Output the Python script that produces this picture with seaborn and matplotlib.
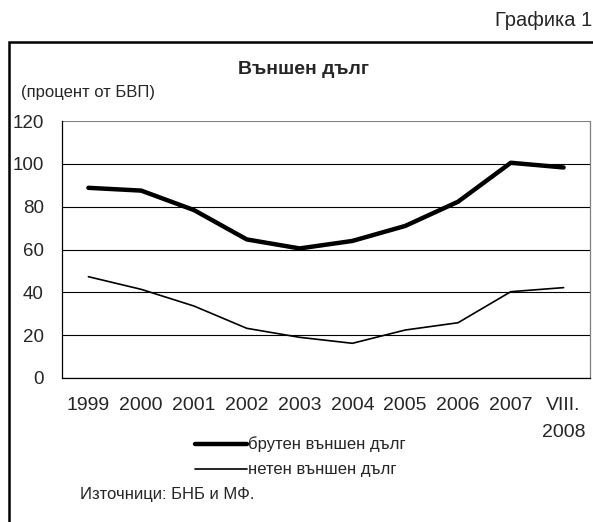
import pandas as pd
import numpy as np
import seaborn as sns
import matplotlib.pyplot as plt
from matplotlib.patches import Rectangle
from matplotlib.lines import Line2D

# данни (процент от БВП)
periods = ["1999", "2000", "2001", "2002", "2003", "2004", "2005", "2006", "2007", "VIII.\n2008"]
gross_debt = [88.8, 87.5, 78.4, 64.7, 60.5, 64.0, 71.0, 82.3, 100.5, 98.3]
net_debt = [47.3, 41.4, 33.6, 23.2, 19.0, 16.2, 22.4, 25.8, 40.3, 42.2]
series_names = ["брутен външен дълг", "нетен външен дълг"]

df = pd.DataFrame({"period": periods * 2,
                   "value": gross_debt + net_debt,
                   "series": [series_names[0]] * len(periods) + [series_names[1]] * len(periods)})
df["pos"] = list(range(len(periods))) * 2

sns.set_style("white")
plt.rcParams['font.family'] = ['Liberation Sans', 'DejaVu Sans']

W, H = 593, 522
fig = plt.figure(figsize=(W / 100, H / 100), dpi=100)
ax = fig.add_axes([62 / W, 1 - 378 / H, (590 - 62) / W, (378 - 121) / H])

sns.lineplot(data=df, x="pos", y="value", hue="series", size="series",
             sizes={series_names[0]: 3.2, series_names[1]: 1.2},
             palette={series_names[0]: "black", series_names[1]: "black"},
             ax=ax, legend=False)

ax.set_xlim(-0.5, len(periods) - 0.5)
ax.set_ylim(0, 120)
ax.set_yticks(range(0, 121, 20))
ax.set_xticks(range(len(periods)))
ax.set_xticklabels(periods, fontsize=14, linespacing=1.75)
ax.set_xticks(np.arange(-0.5, len(periods), 1), minor=True)
ax.tick_params(axis="x", which="major", length=0, pad=14)
ax.tick_params(axis="x", which="minor", length=5, width=0.8, color="black", direction="out")
ax.tick_params(axis="y", length=5, width=0.8, color="black", direction="out", labelsize=13.5, pad=8)
ax.yaxis.grid(True, color="black", linewidth=0.8)
ax.get_ygridlines()[-1].set_color("#808080")
ax.set_axisbelow(True)
ax.set_xlabel("")
ax.set_ylabel("")
for side in ["left", "bottom"]:
    ax.spines[side].set_color("black")
    ax.spines[side].set_linewidth(0.9)
ax.spines["right"].set_color("#808080")
ax.spines["right"].set_linewidth(0.9)
ax.spines["top"].set_visible(False)

# рамка
fig.patches.append(Rectangle((9 / W, -0.1), 1.0, 1 - 42 / H + 0.1, transform=fig.transFigure,
                             fill=False, edgecolor="black", linewidth=1.8))

fig.text(592 / W, 1 - 21 / H, "Графика 1", ha="right", va="center", fontsize=14.5)
fig.text(303 / W, 1 - 70 / H, "Външен дълг", ha="center", va="center", fontsize=14, fontweight="bold")
fig.text(21 / W, 1 - 93 / H, "(процент от БВП)", ha="left", va="center", fontsize=12)
fig.text(80 / W, 1 - 495 / H, "Източници: БНБ и МФ.", ha="left", va="center", fontsize=12)

handles = [Line2D([], [], color="black", linewidth=3.2), Line2D([], [], color="black", linewidth=1.2)]
fig.legend(handles, series_names, loc="center left", bbox_to_anchor=(195 / W, 1 - 457 / H),
           frameon=False, fontsize=12, handlelength=3.1, handletextpad=0.05, labelspacing=0.6,
           borderpad=0, borderaxespad=0)

fig.savefig("out.png", dpi=100)
